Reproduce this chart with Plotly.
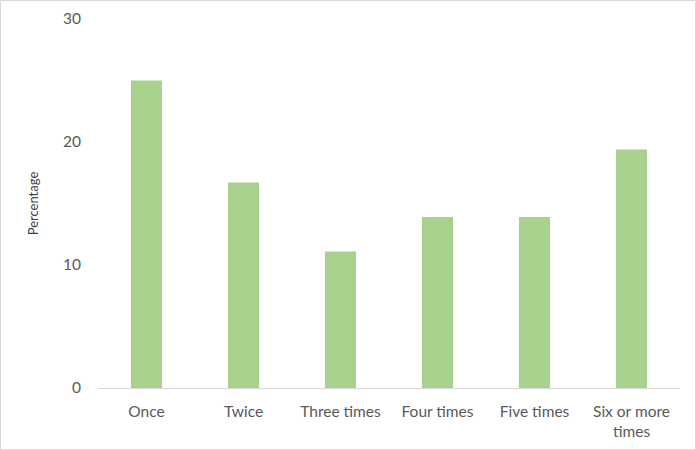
import plotly.graph_objects as go

categories = ["Once", "Twice", "Three times", "Four times", "Five times", "Six or more<br>times"]
percentages = [25.0, 16.7, 11.1, 13.9, 13.9, 19.4]
y_ticks = [0, 10, 20, 30]

W, H = 696, 450
L, R, T, B = 98, 16, 19, 62
pw, ph = W - L - R, H - T - B

fig = go.Figure(
    go.Bar(
        x=categories,
        y=percentages,
        marker=dict(color="#A9D18E", line=dict(width=0)),
        width=0.32,
    )
)

font = dict(family="Lato, 'Open Sans', sans-serif", size=15.5, color="#595959")

fig.update_layout(
    width=W,
    height=H,
    margin=dict(l=L, r=R, t=T, b=B, autoexpand=False),
    paper_bgcolor="white",
    plot_bgcolor="white",
    font=font,
    showlegend=False,
    xaxis=dict(
        showgrid=False,
        showline=True,
        linecolor="#D9D9D9",
        linewidth=1,
        ticks="",
        ticklabelstandoff=9,
        tickfont=font,
    ),
    yaxis=dict(
        range=[0, 30],
        tickvals=y_ticks,
        showgrid=False,
        zeroline=False,
        showline=False,
        ticks="",
        ticklabelstandoff=16,
        tickfont=font,
        title=dict(
            text="Percentage",
            font=dict(family="Lato, 'Open Sans', sans-serif", size=13, color="#404040"),
            standoff=21,
        ),
    ),
    shapes=[
        dict(
            type="rect",
            xref="paper",
            yref="paper",
            x0=(0.5 - L) / pw,
            x1=(W - 0.5 - L) / pw,
            y0=(0.5 - B) / ph,
            y1=(H - 0.5 - B) / ph,
            line=dict(color="#D9D9D9", width=1),
            layer="below",
        )
    ],
)

fig.write_html("out.html")
